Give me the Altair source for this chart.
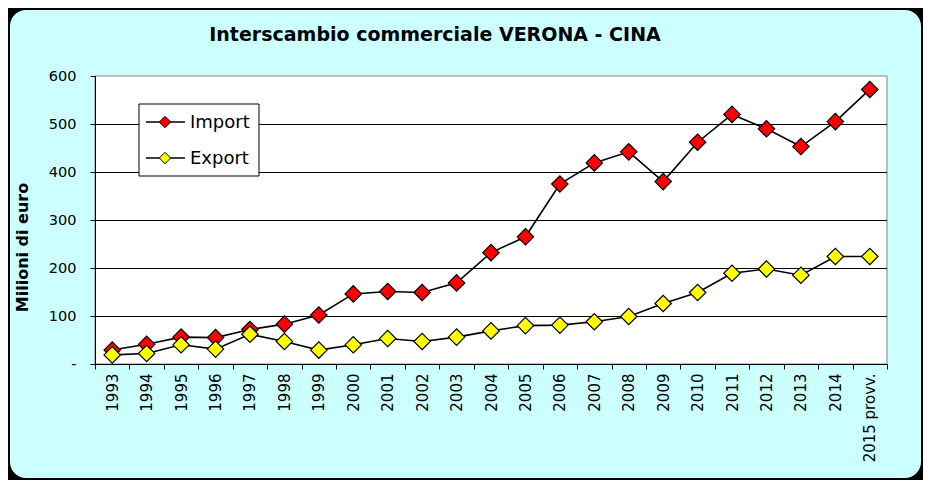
import altair as alt
import pandas as pd

YEARS = ["1993", "1994", "1995", "1996", "1997", "1998", "1999", "2000", "2001",
         "2002", "2003", "2004", "2005", "2006", "2007", "2008", "2009", "2010",
         "2011", "2012", "2013", "2014", "2015 provv."]
IMPORT = [29, 41, 56, 55, 72, 83, 102, 146, 151, 149, 169, 232, 265, 375, 419,
          442, 380, 462, 520, 490, 453, 505, 572]
EXPORT = [19, 22, 40, 31, 62, 47, 29, 40, 53, 47, 56, 69, 80, 81, 88, 99, 126,
          149, 189, 198, 185, 224, 224]
SERIES = ["Import", "Export"]
COLORS = ["#FF0000", "#FFFF00"]
Y_TICKS = [0, 100, 200, 300, 400, 500, 600]
GRID = [100, 200, 300, 400, 500]
TITLE = "Interscambio commerciale VERONA - CINA"
Y_TITLE = "Milioni di euro"

FONT = "DejaVu Sans"
W, H = 792, 288
PAD = {"left": 87, "top": 68, "right": 36, "bottom": 116}

df = pd.DataFrame({
    "anno": YEARS * 2,
    "serie": [SERIES[0]] * len(YEARS) + [SERIES[1]] * len(YEARS),
    "valore": IMPORT + EXPORT,
})
grid_df = pd.DataFrame({"valore": GRID})
one = pd.DataFrame({"k": [0]})

x_enc = alt.X(
    "anno:N", sort=YEARS,
    scale=alt.Scale(type="band", paddingInner=0, paddingOuter=0),
    axis=alt.Axis(title=None, labelAngle=270, labelFont=FONT, labelFontSize=15,
                  labelColor="black", labelPadding=4, tickSize=5, tickBand="extent",
                  tickColor="black", domainColor="black", grid=False, zindex=1),
)
y_enc = alt.Y(
    "valore:Q",
    scale=alt.Scale(domain=[0, 600], nice=False, zero=True),
    axis=alt.Axis(values=Y_TICKS, labelExpr="datum.value == 0 ? '-' : datum.label",
                  labelFont=FONT, labelFontSize=14.5, labelColor="black",
                  labelPadding=14, tickSize=5, tickColor="black",
                  domainColor="black", grid=False, zindex=1,
                  title=Y_TITLE, titleFont=FONT, titleFontSize=16,
                  titleFontWeight="bold", titleColor="black", titleAngle=270,
                  titleX=-73, titleY=171, titleAlign="center",
                  titleBaseline="middle"),
)

bg = alt.Chart(one).mark_rect(fill="#CCFFFF", cornerRadius=16).encode(
    x=alt.value(-85), x2=alt.value(826), y=alt.value(-66), y2=alt.value(402))
plot_bg = alt.Chart(one).mark_rect(fill="white", stroke="#808080", strokeWidth=1).encode(
    x=alt.value(0), x2=alt.value(W), y=alt.value(0), y2=alt.value(H))
grid = alt.Chart(grid_df).mark_rule(color="black", strokeWidth=1, yOffset=0.5).encode(
    y="valore:Q")

lines = alt.Chart(df).mark_line(color="black", strokeWidth=1.6).encode(
    x=x_enc, y=y_enc, detail="serie:N")
points = alt.Chart(df).mark_point(shape="diamond", filled=True, size=270, opacity=1,
                                  stroke="black", strokeWidth=1.2).encode(
    x=x_enc, y=y_enc,
    fill=alt.Fill("serie:N", scale=alt.Scale(domain=SERIES, range=COLORS), legend=None),
    order=alt.Order("ord:Q"),
).transform_calculate(ord="datum.serie == 'Import' ? 0 : 1")

title = alt.Chart(one).mark_text(font=FONT, fontSize=19, fontWeight="bold",
                                 color="black", align="center",
                                 baseline="alphabetic").encode(
    x=alt.value(340), y=alt.value(-35), text=alt.value(TITLE))

leg_box = alt.Chart(one).mark_rect(fill="white", stroke="black", strokeWidth=1).encode(
    x=alt.value(44), x2=alt.value(164), y=alt.value(28), y2=alt.value(100))
leg_layers = [leg_box]
for name, col, ry in zip(SERIES, COLORS, [46, 82]):
    leg_layers.append(alt.Chart(one).mark_rule(color="black", strokeWidth=1.6).encode(
        x=alt.value(51), x2=alt.value(90), y=alt.value(ry)))
    leg_layers.append(alt.Chart(one).mark_point(shape="diamond", filled=True, size=130,
                                                opacity=1, fill=col, stroke="black",
                                                strokeWidth=1).encode(
        x=alt.value(70), y=alt.value(ry)))
    leg_layers.append(alt.Chart(one).mark_text(font=FONT, fontSize=18, color="black",
                                               align="left", baseline="alphabetic").encode(
        x=alt.value(95), y=alt.value(ry + 6), text=alt.value(name)))

chart = alt.layer(bg, plot_bg, grid, lines, points, *leg_layers, title).properties(
    width=W, height=H, padding=PAD, autosize="none", background="black",
).configure_view(stroke="transparent")

chart.save("out.html", embed_options={"renderer": "svg", "actions": False})
